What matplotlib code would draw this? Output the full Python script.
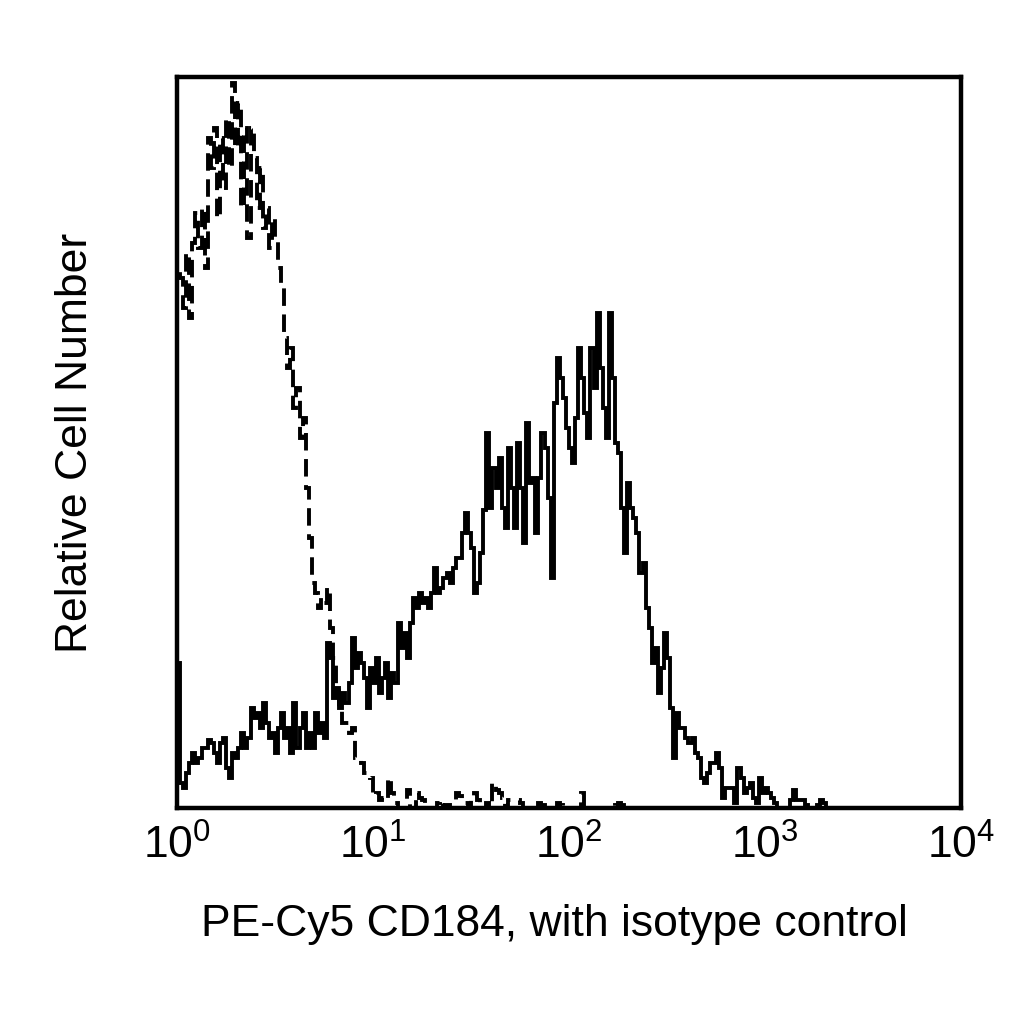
import numpy as np
import matplotlib
matplotlib.use('Agg')
import matplotlib.pyplot as plt

N_CHANNELS = 256        # channels over the log scale
DECADES = 4             # 10^0 .. 10^4

# relative counts per channel, CD184 stained cells (solid)
cd184_counts = [
    145, 25, 20, 35, 45, 55, 45, 50, 60, 60,
    68, 65, 55, 45, 65, 70, 40, 30, 55, 50,
    60, 75, 60, 70, 100, 90, 95, 80, 105, 85,
    70, 75, 55, 80, 95, 70, 80, 55, 105, 60,
    80, 95, 60, 75, 60, 95, 75, 85, 70, 165,
    150, 110, 120, 100, 115, 105, 125, 170, 140, 155,
    145, 130, 100, 140, 125, 150, 115, 130, 145, 110,
    135, 125, 185, 160, 175, 150, 185, 210, 200, 215,
    205, 210, 200, 215, 240, 215, 220, 230, 235, 225,
    240, 250, 250, 275, 295, 275, 260, 215, 225, 255,
    298, 375, 300, 340, 320, 350, 300, 280, 360, 320,
    280, 365, 320, 265, 385, 325, 330, 275, 330, 375,
    360, 310, 230, 405, 450, 430, 410, 380, 360, 345,
    390, 460, 430, 395, 370, 460, 420, 495, 440, 400,
    370, 495, 430, 365, 355, 300, 255, 325, 300, 290,
    275, 235, 245, 200, 180, 145, 160, 115, 140, 175,
    150, 100, 50, 95, 80, 80, 70, 65, 70, 55,
    50, 30, 25, 35, 45, 45, 55, 40, 10, 20,
    20, 20, 5, 40, 30, 15, 20, 25, 10, 5,
    30, 15, 20, 15, 10, 5, 0, 0, 0, 0,
    8, 18, 8, 8, 8, 3, 0, 0, 0, 3,
    8, 5,
]

# relative counts per channel, isotype control (dashed)
isotype_counts = [
    540, 530, 500, 555, 490, 565, 595, 560, 600, 540,
    670, 640, 680, 590, 670, 620, 690, 640, 725, 660,
    705, 600, 680, 570, 680, 650, 600, 640, 580, 600,
    560, 590, 570, 540, 520, 470, 440, 460, 400, 420,
    370, 390, 320, 270, 225, 215, 200, 210, 205, 220,
    180, 150, 120, 100, 85, 85, 75, 80, 50, 50,
    45, 35, 32, 30, 12, 15, 8, 10, 8, 30,
    15, 5, 0, 0, 0, 18, 0, 0, 15, 10,
    8, 5, 0, 0, 0, 5, 8, 3, 3, 0,
    0, 15, 12, 8, 5, 0, 10, 15, 8, 5,
    0, 5, 0, 25, 18, 15, 10, 0, 8, 8,
    8, 8, 5, 0, 0, 0, 0, 0, 5, 3,
    0, 0, 0, 0, 5, 3, 0, 0, 0, 0,
    0, 0, 15, 0, 0, 0, 0, 0, 0, 0,
    0, 0, 0, 3, 5, 3,
]

x_ticks = [1, 10, 100, 1000, 10000]
x_label = 'PE-Cy5 CD184, with isotype control'
y_label = 'Relative Cell Number'


def padded(counts):
    """Fill the remaining channels with zeros"""
    arr = np.zeros(N_CHANNELS)
    arr[:len(counts)] = counts
    return arr


def main():
    plt.rcParams['font.family'] = ['Liberation Sans', 'DejaVu Sans']
    plt.rcParams['mathtext.fontset'] = 'custom'
    plt.rcParams['mathtext.rm'] = 'Liberation Sans'
    plt.rcParams['mathtext.it'] = 'Liberation Sans'

    edges = 10 ** (np.arange(N_CHANNELS + 1) * DECADES / N_CHANNELS)

    fig = plt.figure(figsize=(10.24, 10.24), dpi=100)
    ax = fig.add_axes([0.1729, 0.2109, 0.7656, 0.7139])

    ax.stairs(padded(isotype_counts), edges, color='black', linewidth=2.8,
              linestyle=(0, (4.5, 2.2)))
    ax.stairs(padded(cd184_counts), edges, color='black', linewidth=2.8)

    ax.set_xscale('log')
    ax.set_xlim(1, 10 ** DECADES)
    ax.set_ylim(0, 731)
    ax.set_xticks(x_ticks)
    ax.minorticks_off()
    ax.set_yticks([])
    ax.tick_params(axis='x', length=0, pad=12, labelsize=32)

    for spine in ax.spines.values():
        spine.set_linewidth(3.2)

    ax.set_xlabel(x_label, fontsize=32, labelpad=26, x=0.481)
    ax.set_ylabel(y_label, fontsize=32, labelpad=58)

    fig.savefig('out.png', dpi=100)


if __name__ == '__main__':
    main()
